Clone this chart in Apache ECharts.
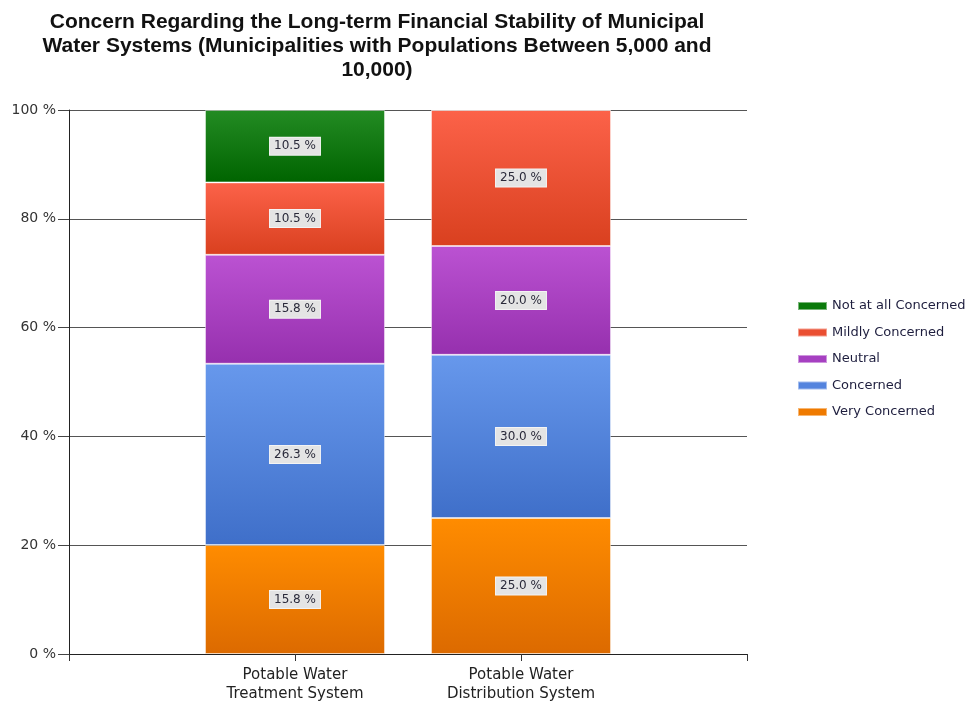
<!DOCTYPE html>
<html>
<head>
<meta charset="utf-8">
<script src="https://cdn.jsdelivr.net/npm/echarts@6/dist/echarts.min.js"></script>
<style>
html,body{margin:0;padding:0;background:#fff;}
#chart{width:967px;height:701px;}
</style>
</head>
<body>
<div id="chart"></div>
<script>
const titleText = 'Concern Regarding the Long-term Financial Stability of Municipal\nWater Systems (Municipalities with Populations Between 5,000 and\n10,000)';
const categories = ['Potable Water\nTreatment System', 'Potable Water\nDistribution System'];
const seriesNames = ['Very Concerned', 'Concerned', 'Neutral', 'Mildly Concerned', 'Not at all Concerned'];
const veryConcerned = [15.8, 25.0];
const concerned = [26.3, 30.0];
const neutral = [15.8, 20.0];
const mildlyConcerned = [10.5, 25.0];
const notAtAllConcerned = [10.5, 0];
const yTicks = [0, 20, 40, 60, 80, 100];

const rawSeries = [veryConcerned, concerned, neutral, mildlyConcerned, notAtAllConcerned];
const gradients = [
  ['#ff8c00', '#dc6a00'],
  ['#6798ec', '#3f6fc9'],
  ['#bb52d2', '#9630ae'],
  ['#fc6249', '#d9401f'],
  ['#238b23', '#006400']
];
const legendColors = ['#ef7a00', '#5383de', '#a640c1', '#ea4e31', '#0b7a0b'];
const axisFont = 'DejaVu Sans, Verdana, sans-serif';

const totals = categories.map((c, i) => rawSeries.reduce((s, arr) => s + arr[i], 0));

// padded category axis: blank slots at both ends
const axisData = [''].concat(categories).concat(['']);

const series = rawSeries.map((arr, si) => ({
  name: seriesNames[si],
  type: 'bar',
  stack: 'total',
  barWidth: 180,
  data: [null].concat(arr.map((v, i) => ({
    value: v / totals[i] * 100,
    raw: v,
    label: {show: v > 0}
  }))).concat([null]),
  itemStyle: {
    color: new echarts.graphic.LinearGradient(0, 0, 0, 1, [
      {offset: 0, color: gradients[si][0]},
      {offset: 1, color: gradients[si][1]}
    ]),
    borderColor: 'rgba(255,255,255,0.45)',
    borderWidth: 1
  },
  label: {
    show: true,
    position: 'inside',
    formatter: p => p.data.raw.toFixed(1) + ' %',
    backgroundColor: '#e4e4e4',
    borderColor: '#f4f4f4',
    borderWidth: 1,
    padding: [3, 4, 2, 4],
    color: '#2a2a3a',
    fontFamily: axisFont,
    fontSize: 12
  },
  emphasis: {disabled: true}
}));

const chart = echarts.init(document.getElementById('chart'));
chart.setOption({
  animation: false,
  title: {
    text: titleText,
    left: 372,
    textAlign: 'center',
    top: 5,
    textStyle: {
      fontFamily: 'Liberation Sans, Arial, sans-serif',
      fontWeight: 'bold',
      fontSize: 21,
      lineHeight: 24,
      color: '#111'
    }
  },
  legend: {
    orient: 'vertical',
    left: 792,
    top: 293,
    icon: 'rect',
    itemWidth: 29,
    itemHeight: 8,
    itemGap: 10.5,
    data: seriesNames.slice().reverse().map(n => ({name: n, itemStyle: {color: legendColors[seriesNames.indexOf(n)]}})),
    textStyle: {
      fontFamily: axisFont,
      fontSize: 13,
      lineHeight: 16,
      color: '#1e1e3e'
    }
  },
  grid: {left: 69, right: 220, top: 110, bottom: 47, containLabel: false, outerBoundsMode: 'none'},
  xAxis: {
    type: 'category',
    data: axisData,
    boundaryGap: false,
    axisLine: {lineStyle: {color: '#222', width: 1}},
    axisTick: {show: true, length: 7, alignWithLabel: true, lineStyle: {color: '#333'}},
    axisLabel: {
      interval: 0,
      margin: 12,
      fontFamily: axisFont,
      fontSize: 15,
      lineHeight: 19,
      color: '#222'
    },
    splitLine: {show: false}
  },
  yAxis: {
    type: 'value',
    min: yTicks[0],
    max: yTicks[yTicks.length - 1],
    interval: 20,
    axisLine: {show: true, lineStyle: {color: '#222'}},
    axisTick: {show: true, length: 11, lineStyle: {color: '#444'}},
    axisLabel: {
      formatter: v => v + ' %',
      fontFamily: axisFont,
      fontSize: 14,
      color: '#333',
      margin: 13
    },
    splitLine: {show: true, lineStyle: {color: '#555', width: 1}}
  },
  series: series
});
</script>
</body>
</html>
